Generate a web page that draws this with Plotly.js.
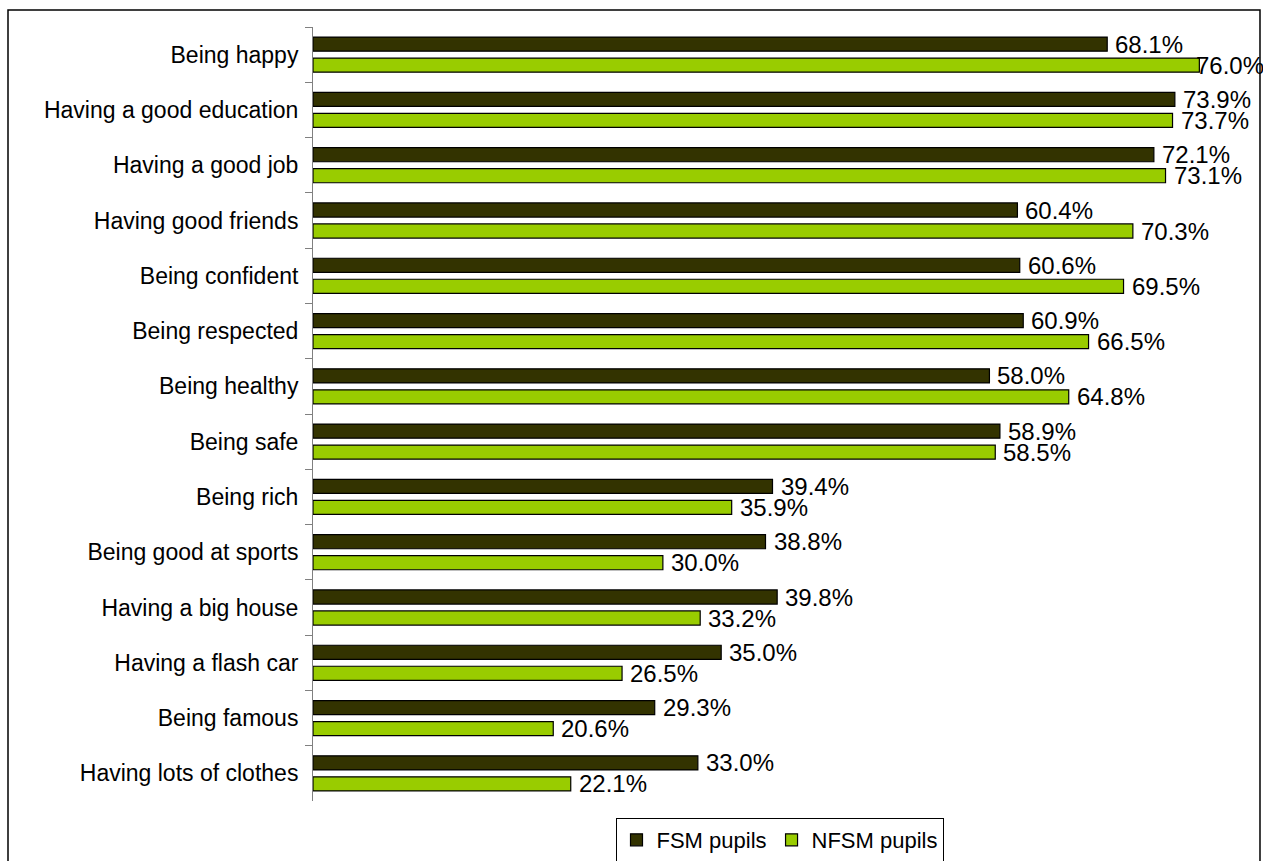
<!DOCTYPE html>
<html>
<head>
<meta charset="utf-8">
<script src="https://cdn.plot.ly/plotly-3.0.1.min.js"></script>
<style>
  html, body { margin: 0; padding: 0; background: #ffffff; }
  #chart { width: 1263px; height: 861px; }
</style>
</head>
<body>
<div id="chart"></div>
<script>
const categories = [
  "Being happy",
  "Having a good education",
  "Having a good job",
  "Having good friends",
  "Being confident",
  "Being respected",
  "Being healthy",
  "Being safe",
  "Being rich",
  "Being good at sports",
  "Having a big house",
  "Having a flash car",
  "Being famous",
  "Having lots of clothes"
];
const fsmValues  = [68.1, 73.9, 72.1, 60.4, 60.6, 60.9, 58.0, 58.9, 39.4, 38.8, 39.8, 35.0, 29.3, 33.0];
const nfsmValues = [76.0, 73.7, 73.1, 70.3, 69.5, 66.5, 64.8, 58.5, 35.9, 30.0, 33.2, 26.5, 20.6, 22.1];
const seriesNames = ["FSM pupils", "NFSM pupils"];

const FONT = "Arial, 'Liberation Sans', sans-serif";

const traces = [
  {
    type: "bar", orientation: "h", name: seriesNames[0],
    y: categories, x: fsmValues,
    marker: { color: "#333300", line: { color: "#000000", width: 1.2 } },
    hoverinfo: "x+y"
  },
  {
    type: "bar", orientation: "h", name: seriesNames[1],
    y: categories, x: nfsmValues,
    marker: { color: "#99cc00", line: { color: "#000000", width: 1.2 } },
    hoverinfo: "x+y"
  }
];

const annotations = [];
function addLabels(vals, yshift) {
  vals.forEach((v, i) => {
    annotations.push({
      x: v, y: categories[i], xref: "x", yref: "y",
      text: v.toFixed(1) + "%",
      showarrow: false, xanchor: "left", yanchor: "middle",
      xshift: v > 75 ? -5 : 6, yshift: yshift,
      font: { family: FONT, size: 24, color: "#000000" }
    });
  });
}
addLabels(fsmValues, 10.5);
addLabels(nfsmValues, -10.5);

const layout = {
  width: 1263, height: 861,
  margin: { l: 313, r: 17, t: 27, b: 60, autoexpand: false },
  paper_bgcolor: "#ffffff", plot_bgcolor: "#ffffff",
  barmode: "group", bargap: 0.24, bargroupgap: 0.33,
  font: { family: FONT, size: 21, color: "#000000" },
  xaxis: {
    range: [0, 80], visible: false, fixedrange: true
  },
  yaxis: {
    type: "category", autorange: "reversed",
    showline: true, linecolor: "#808080", linewidth: 1,
    ticks: "outside", ticklen: 7, tickcolor: "#808080", tickwidth: 1,
    tickson: "boundaries", ticklabelstandoff: 9,
    showgrid: false, zeroline: false,
    tickfont: { family: FONT, size: 23, color: "#000000" }
  },
  showlegend: true,
  legend: {
    orientation: "h", x: 0.5, xanchor: "center", y: -0.022, yanchor: "top",
    bordercolor: "#000000", borderwidth: 1, bgcolor: "#ffffff",
    font: { family: FONT, size: 22, color: "#000000" },
    itemwidth: 30, traceorder: "normal"
  },
  annotations: annotations,
  shapes: [{
    type: "rect", xref: "paper", yref: "paper",
    x0: -0.3269, x1: 1.015, y0: -0.1, y1: 1.022,
    line: { color: "#000000", width: 1.5 }, fillcolor: "rgba(0,0,0,0)"
  }]
};

Plotly.newPlot("chart", traces, layout, { displayModeBar: false, staticPlot: true });
</script>
</body>
</html>
